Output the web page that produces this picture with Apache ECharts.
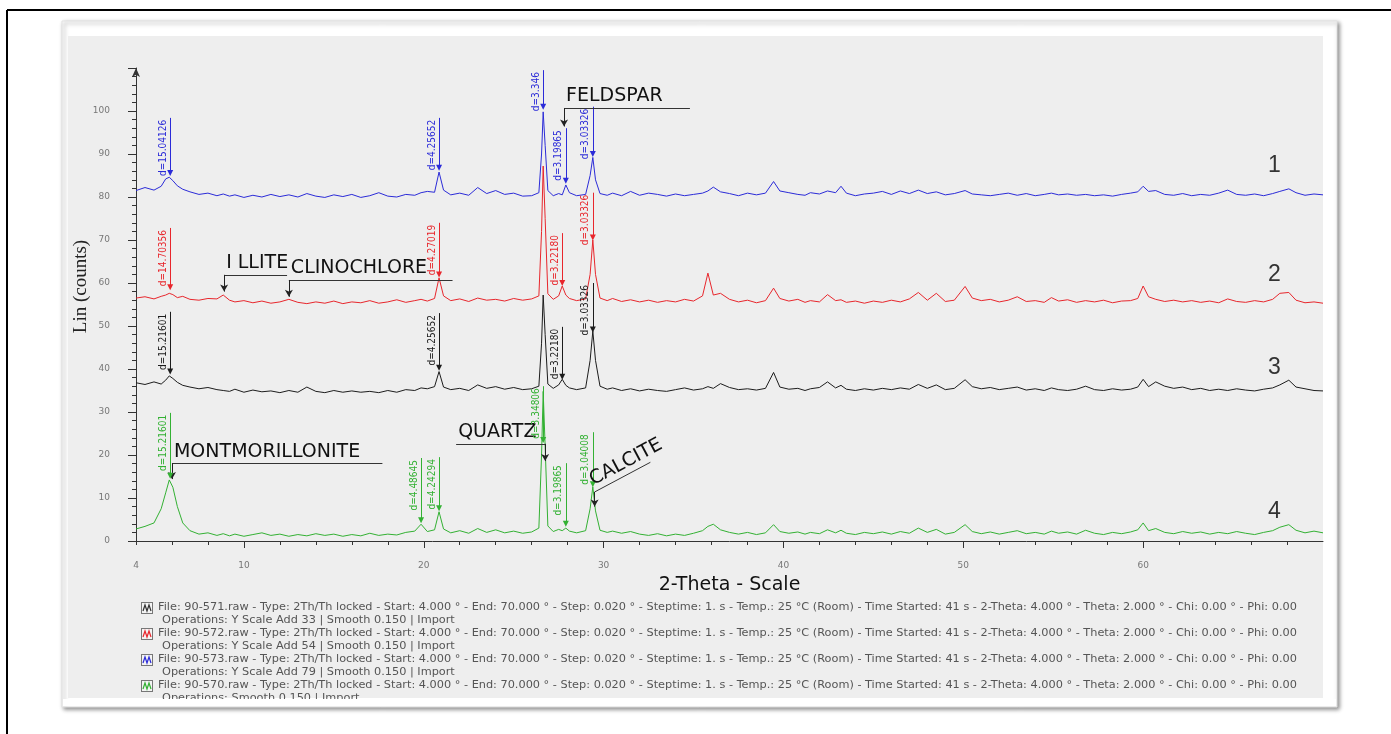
<!DOCTYPE html>
<html>
<head>
<meta charset="utf-8">
<script src="https://cdn.jsdelivr.net/npm/echarts@6/dist/echarts.min.js"></script>
<style>
  html, body { margin: 0; padding: 0; background: #ffffff; }
  #chart { width: 1391px; height: 734px; }
</style>
</head>
<body>
<div id="chart"></div>
<script>
// ---------------- DATA ----------------
// shared 2-Theta grid (degrees)
const twoTheta = [
  4, 4.5, 5, 5.4, 5.65, 5.85, 6.05, 6.3, 6.6, 7,
  7.5, 8, 8.5, 8.85, 9.2, 9.5, 10, 10.5, 11, 11.5,
  12, 12.5, 13, 13.5, 14, 14.5, 15, 15.5, 16, 16.5,
  17, 17.5, 18, 18.5, 19, 19.5, 19.85, 20.2, 20.6, 20.85,
  21.1, 21.5, 22, 22.5, 23, 23.5, 24, 24.5, 25, 25.5,
  26, 26.4, 26.55, 26.64, 26.75, 26.9, 27.2, 27.5, 27.7, 27.9,
  28.1, 28.5, 29, 29.25, 29.4, 29.55, 29.8, 30.2, 30.5, 31,
  31.5, 32, 32.5, 33, 33.5, 34, 34.5, 35, 35.5, 35.8,
  36.1, 36.5, 37, 37.5, 38, 38.5, 39, 39.45, 39.8, 40.3,
  40.8, 41.2, 41.5, 42, 42.45, 42.9, 43.2, 43.5, 44, 44.5,
  45, 45.5, 46, 46.5, 47, 47.5, 48, 48.5, 49, 49.5,
  50.1, 50.5, 51, 51.5, 52, 52.5, 53, 53.5, 54, 54.5,
  54.9, 55.3, 55.8, 56.3, 56.8, 57.3, 57.8, 58.3, 58.8, 59.3,
  59.7, 60, 60.3, 60.7, 61.2, 61.7, 62.2, 62.7, 63.2, 63.7,
  64.2, 64.7, 65.2, 65.7, 66.2, 66.7, 67.2, 67.6, 68.1, 68.5,
  69, 69.5, 70
];

// curve 1 (blue, file 90-573, Y scale add 79)
const curve1Blue = [
  81.5, 82.2, 81.6, 82.5, 84.2, 84.6, 83.8, 82.6, 81.8, 81.2,
  80.6, 80.9, 80.3, 80.7, 80.2, 80.5, 79.9, 80.4, 80.0, 80.6,
  80.1, 80.5, 80.0, 80.8, 80.2, 79.9, 80.5, 80.1, 80.6, 79.9,
  80.3, 81.0, 80.2, 80.0, 80.6, 80.4, 81.0, 81.3, 81.1, 85.8,
  81.6, 80.5, 80.9, 80.4, 82.2, 80.8, 81.5, 80.6, 80.9, 80.2,
  80.3, 81.0, 90.0, 99.8, 92.0, 81.5, 80.3, 80.8, 80.5, 82.8,
  81.0, 80.3, 80.6, 85.0, 89.2, 84.0, 80.8, 80.4, 80.9, 80.3,
  81.3, 80.4, 80.9, 80.6, 80.2, 80.7, 80.3, 80.6, 80.9, 81.4,
  82.3, 81.2, 80.8, 80.3, 80.9, 80.5, 80.9, 83.6, 81.4, 81.0,
  80.6, 80.4, 81.0, 80.7, 81.4, 81.0, 82.5, 80.9, 80.3, 80.7,
  80.9, 81.3, 80.6, 81.4, 80.8, 81.6, 80.8, 81.2, 80.5, 80.8,
  81.5, 80.7, 80.5, 80.3, 80.6, 80.9, 80.4, 80.8, 80.3, 80.6,
  80.9, 80.5, 80.7, 80.4, 80.6, 80.3, 80.5, 80.2, 80.6, 80.9,
  81.2, 82.5, 81.3, 81.5, 80.6, 80.4, 80.8, 80.3, 80.6, 80.4,
  80.9, 81.6, 80.6, 80.4, 80.7, 80.3, 80.8, 81.3, 81.9, 81.0,
  80.4, 80.7, 80.5
];

// curve 2 (red, file 90-572, Y scale add 54)
const curve2Red = [
  56.5, 56.8, 56.3, 56.9, 57.2, 57.6, 57.3, 56.6, 56.9, 56.2,
  56.0, 56.4, 56.3, 57.2, 56.0, 55.6, 55.9, 55.4, 55.8, 55.3,
  55.6, 56.2, 55.5, 55.2, 55.6, 55.3, 55.8, 55.2, 55.6, 55.4,
  55.9, 55.3, 55.6, 56.1, 55.5, 55.9, 56.2, 55.8, 56.4, 61.2,
  57.0, 55.9, 56.3, 55.7, 56.5, 56.0, 56.2, 55.8, 56.4, 56.0,
  56.3, 57.0, 72.0, 87.2, 75.0, 57.5, 56.2, 57.0, 59.3, 57.2,
  56.4, 55.9, 56.3, 62.0, 70.0, 62.0, 56.5, 55.9, 56.4, 55.7,
  56.1, 55.6, 56.0, 55.5, 55.9, 55.6, 56.2, 55.8, 57.0, 62.3,
  57.2, 57.6, 56.2, 55.6, 56.0, 55.4, 55.9, 58.8, 56.4, 55.8,
  56.2, 55.5, 55.9, 55.6, 57.3, 55.9, 56.1, 55.5, 55.8, 55.3,
  55.8, 55.5, 56.0, 55.6, 56.3, 57.8, 56.0, 57.6, 55.7, 56.0,
  59.2, 56.5, 55.9, 56.2, 55.6, 56.0, 56.8, 55.7, 55.9, 55.5,
  56.6, 55.8, 56.1, 55.5, 55.9, 55.6, 56.0, 55.4, 55.8, 55.9,
  56.4, 59.3, 56.8, 56.2, 55.7, 56.0, 55.6, 55.9, 55.5, 55.8,
  55.4, 56.3, 55.7, 55.5, 55.9, 55.6, 56.2, 57.6, 57.8, 56.0,
  55.4, 55.6, 55.3
];

// curve 3 (black, file 90-571, Y scale add 33)
const curve3Black = [
  36.8, 36.4, 37.0, 36.5, 37.4, 38.4, 37.8, 36.9, 36.2, 35.8,
  35.4, 35.7, 35.2, 35.0, 34.8, 35.3, 34.6, 35.1, 34.7, 34.9,
  34.5, 35.0, 34.6, 35.8, 34.8, 34.5, 35.0, 34.6, 34.9, 34.6,
  34.8, 34.5, 35.0, 34.6, 35.2, 35.0, 35.6, 35.4, 35.9, 39.4,
  35.8, 35.2, 35.5, 35.0, 36.3, 35.5, 35.9, 35.3, 35.7, 35.2,
  35.4, 36.0, 46.0, 57.2, 48.0, 36.5, 35.5, 36.3, 37.6, 36.2,
  35.6, 35.2, 35.6, 42.0, 48.8, 42.0, 36.0, 35.3, 35.6, 35.0,
  35.4, 34.9, 35.3, 35.0, 34.8, 35.2, 35.6, 35.1, 35.4, 35.9,
  35.5, 36.6, 35.7, 35.2, 35.4, 35.1, 35.5, 39.2, 35.8, 35.3,
  35.5, 35.0, 35.4, 35.7, 37.0, 35.6, 36.2, 35.3, 35.0, 35.4,
  35.1, 35.5, 35.2, 35.6, 35.3, 36.4, 35.5, 36.3, 35.2, 35.5,
  37.5, 35.9, 35.4, 35.7, 35.2, 35.5, 35.8, 35.1, 35.4, 35.0,
  35.6, 35.2, 35.0, 35.3, 36.0, 35.2, 35.0, 35.4, 35.1, 35.3,
  35.8, 37.6, 35.9, 37.0, 36.0, 35.5, 35.8, 35.2, 35.5, 35.0,
  35.3, 35.0, 35.4, 35.1, 34.9, 35.3, 35.6, 36.3, 37.4, 35.8,
  35.4, 35.0, 34.9
];

// curve 4 (green, file 90-570, no offset)
const curve4Green = [
  2.8, 3.4, 4.2, 7.5, 11.2, 14.2, 12.5, 8.0, 4.2, 2.4,
  1.6, 1.9, 1.3, 1.7, 1.2, 1.6, 1.1, 1.5, 1.9, 1.3,
  1.6, 1.1, 1.5, 1.2, 1.7, 1.3, 1.6, 1.1, 1.5, 1.2,
  1.8, 1.3, 1.6, 1.4, 2.0, 2.3, 3.9, 2.2, 2.6, 6.8,
  2.8, 1.9, 2.4, 1.8, 2.9, 2.0, 2.6, 1.9, 2.3, 1.8,
  2.1, 3.0, 20.0, 34.8, 22.0, 3.5, 2.2, 2.7, 2.4, 3.0,
  2.3, 1.9, 2.4, 7.5, 12.6, 7.0, 2.5, 2.0, 2.3, 1.8,
  2.2, 1.6, 1.3, 1.7, 1.2, 1.6, 1.3, 1.8, 2.4, 3.4,
  3.9, 2.6, 2.0, 1.6, 2.0, 1.5, 1.9, 3.8, 2.2, 1.8,
  2.1, 1.6, 2.0, 1.7, 2.6, 1.9, 2.5, 1.8, 1.5, 2.0,
  1.7, 2.1, 1.6, 2.2, 1.8, 3.0, 2.0, 2.7, 1.6, 2.0,
  3.8, 2.2, 1.7, 2.1, 1.6, 2.0, 2.4, 1.7, 2.0, 1.6,
  2.3, 1.8, 2.1, 1.6, 2.5, 1.8, 1.5, 2.0, 1.7, 2.1,
  2.6, 4.2, 2.4, 2.9, 2.0, 1.7, 2.2, 1.8, 2.1, 1.6,
  2.0, 1.7, 2.2, 1.8, 1.5, 2.0, 2.4, 3.2, 3.8, 2.5,
  1.9, 2.3, 1.9
];

// axis ticks
const xTickLabels = [4, 10, 20, 30, 40, 50, 60];
const xMajorTicks = [10, 20, 30, 40, 50, 60];
const xMinorTicks = [4, 6, 8, 12, 14, 16, 18, 22, 24, 26, 28, 32, 34, 36, 38, 42, 44, 46, 48, 52, 54, 56, 58, 62, 64, 66, 68];
const yTickLabels = [0, 10, 20, 30, 40, 50, 60, 70, 80, 90, 100];

// d-spacing peak markers: [curve, 2θ, line top, arrow tip, text]
const dMarks = [
  ['blue', 5.9, 98.4, 85.6, 'd=15.04126'],
  ['blue', 20.85, 98.4, 86.8, 'd=4.25652'],
  ['blue', 26.64, 109.5, 101.0, 'd=3.346'],
  ['blue', 27.9, 96.0, 83.8, 'd=3.19865'],
  ['blue', 29.4, 101.0, 90.0, 'd=3.03326'],
  ['red', 5.9, 72.8, 59.0, 'd=14.70356'],
  ['red', 20.85, 74.0, 62.0, 'd=4.27019'],
  ['red', 27.7, 71.6, 60.0, 'd=3.22180'],
  ['red', 29.4, 81.0, 70.6, 'd=3.03326'],
  ['black', 5.9, 53.3, 39.4, 'd=15.21601'],
  ['black', 20.85, 53.0, 40.3, 'd=4.25652'],
  ['black', 27.7, 49.8, 38.2, 'd=3.22180'],
  ['black', 29.4, 60.0, 49.2, 'd=3.03326'],
  ['green', 5.9, 29.8, 15.2, 'd=15.21601'],
  ['green', 19.85, 19.3, 4.8, 'd=4.48645'],
  ['green', 20.85, 19.5, 7.6, 'd=4.24294'],
  ['green', 26.64, 36.0, 23.5, 'd=3.34806'],
  ['green', 27.9, 18.1, 4.0, 'd=3.19865'],
  ['green', 29.4, 25.3, 13.2, 'd=3.04008']
];

// mineral labels: [text, x1, y1, x2, y2, leader x, leader bottom]
const minerals = [
  ['FELDSPAR', 27.8, 100.7, 34.8, 100.7, 27.8, 96.4],
  ['I LLITE', 8.9, 61.9, 12.4, 61.9, 8.9, 58.0],
  ['CLINOCHLORE', 12.5, 60.7, 21.6, 60.7, 12.5, 56.8],
  ['MONTMORILLONITE', 6.0, 18.1, 17.7, 18.1, 6.0, 14.4],
  ['QUARTZ', 21.8, 22.6, 26.75, 22.6, 26.75, 18.6],
  ['CALCITE', 29.5, 11.4, 32.6, 18.3, 29.5, 8.0]
];

// curve numbers at the right: [curve, 2θ, y, text]
const curveNumbers = [
  ['blue', 67.3, 87.3, '1'],
  ['red', 67.3, 61.9, '2'],
  ['black', 67.3, 40.2, '3'],
  ['green', 67.3, 6.8, '4']
];

// legend (scan file info)
const fileNames = ['90-571.raw', '90-572.raw', '90-573.raw', '90-570.raw'];
const operations = [
  'Y Scale Add 33 | Smooth 0.150 | Import',
  'Y Scale Add 54 | Smooth 0.150 | Import',
  'Y Scale Add 79 | Smooth 0.150 | Import',
  'Smooth 0.150 | Import'
];

// ---------------- CHART ----------------
const COLORS = { blue: '#2b2bd8', red: '#e8262c', black: '#1c1c1c', green: '#33b133' };
const NARROW = "'Liberation Sans Narrow', 'DejaVu Sans Condensed', 'Liberation Sans', sans-serif";
const SANS = "'Liberation Sans', Arial, sans-serif";
const WIDE = "'DejaVu Sans', sans-serif";

function pairs(vals) { return twoTheta.map((x, i) => [x, vals[i]]); }

function dMarkData(key) {
  return dMarks.filter(m => m[0] === key).map(m => [
    { coord: [m[1], m[3]], symbol: 'triangle' },
    { coord: [m[1], m[2]], symbol: 'none',
      label: { show: true, formatter: m[4], position: 'insideEndTop', distance: 2,
               color: COLORS[key], fontSize: 10, fontFamily: NARROW } }
  ]);
}

function mineralData() {
  const out = [];
  minerals.forEach(m => {
    out.push([
      { coord: [m[1], m[2]], symbol: 'none', lineStyle: { color: '#333', width: 1 },
        label: { show: true, formatter: m[0], position: 'insideStartTop', distance: 2,
                 color: '#111', fontSize: 19, fontFamily: WIDE } },
      { coord: [m[3], m[4]], symbol: 'none' }
    ]);
    out.push([
      { coord: [m[5], m[2]], symbol: 'none', lineStyle: { color: '#222', width: 1 } },
      { coord: [m[5], m[6]], symbol: 'arrow', symbolSize: [6, 7] }
    ]);
  });
  return out;
}

function numberData(key) {
  return curveNumbers.filter(n => n[0] === key).map(n => ({
    coord: [n[1], n[2]], value: n[3]
  }));
}

function makeSeries(name, key, vals, withMinerals) {
  return {
    name: name,
    type: 'line',
    data: pairs(vals),
    showSymbol: false,
    symbol: 'none',
    smooth: false,
    lineStyle: { color: COLORS[key], width: 1 },
    itemStyle: { color: COLORS[key] },
    animation: false,
    silent: true,
    markLine: {
      silent: true,
      animation: false,
      symbol: ['triangle', 'none'],
      symbolSize: [6, 6],
      lineStyle: { color: COLORS[key], width: 1, type: 'solid' },
      label: { show: false },
      emphasis: { disabled: true },
      data: dMarkData(key).concat(withMinerals ? mineralData() : [])
    },
    markPoint: {
      silent: true,
      animation: false,
      symbol: 'circle',
      symbolSize: 0,
      label: { show: true, position: 'inside', formatter: p => p.data.value,
               color: '#333', fontSize: 23, fontFamily: SANS },
      data: numberData(key)
    }
  };
}

function legendIcon(color) {
  const svg = '<svg xmlns="http://www.w3.org/2000/svg" width="12" height="26" viewBox="0 0 12 26">' +
    '<rect x="0.5" y="1.5" width="11" height="11" fill="#f4f4f4" stroke="#777" stroke-width="1"/>' +
    '<polyline points="2,10 4,4 6,10 8,4 10,10" fill="none" stroke="' + color + '" stroke-width="1.2"/>' +
    '</svg>';
  return 'image://data:image/svg+xml;charset=utf-8,' + encodeURIComponent(svg);
}

const chart = echarts.init(document.getElementById('chart'), null, { renderer: 'canvas' });

const option = {
  backgroundColor: '#ffffff',
  animation: false,
  graphic: [
    // outer frame lines
    { type: 'line', z: 50, shape: { x1: 7, y1: 10, x2: 1391, y2: 10 }, style: { stroke: '#000', lineWidth: 2 } },
    { type: 'line', z: 50, shape: { x1: 7, y1: 10, x2: 7, y2: 734 }, style: { stroke: '#000', lineWidth: 2 } },
    // white card with shadow
    { type: 'rect', z: -20, shape: { x: 62, y: 21, width: 1275, height: 686 },
      style: { fill: '#ffffff', stroke: '#e2e2e2', lineWidth: 1, shadowBlur: 4, shadowOffsetX: 2, shadowOffsetY: 2, shadowColor: 'rgba(0,0,0,0.45)' } },
    // grey plot panel
    { type: 'rect', z: -19, shape: { x: 68, y: 36, width: 1255, height: 662 }, style: { fill: '#eeeeee' } },
    // card bottom edge covering overflowing legend text
    { type: 'rect', z: 60, shape: { x: 63, y: 699, width: 1273, height: 7 }, style: { fill: '#ffffff' } }
  ],
  grid: { left: 136, right: 68, top: 68, bottom: 193, containLabel: false },
  xAxis: [
    {
      type: 'value', min: 4, max: 70, position: 'bottom',
      name: '2-Theta - Scale', nameLocation: 'middle', nameGap: 35,
      nameTextStyle: { color: '#111', fontSize: 19, fontFamily: WIDE },
      axisLine: { show: true, lineStyle: { color: '#333', width: 1 } },
      axisTick: { show: true, customValues: xMajorTicks, length: 7, lineStyle: { color: '#333' } },
      axisLabel: { show: true, customValues: xTickLabels, margin: 20, color: '#777', fontSize: 9, fontFamily: WIDE },
      splitLine: { show: false }
    },
    {
      type: 'value', min: 4, max: 70, position: 'bottom', offset: 0,
      axisLine: { show: false },
      axisTick: { show: true, customValues: xMinorTicks, length: 4, lineStyle: { color: '#333' } },
      axisLabel: { show: false },
      splitLine: { show: false }
    }
  ],
  yAxis: {
    type: 'value', min: 0, max: 110, interval: 10,
    name: 'Lin (counts)', nameLocation: 'middle', nameGap: 45, nameMoveOverlap: false,
    nameTextStyle: { color: '#222', fontSize: 19, fontFamily: "'Liberation Serif', 'Times New Roman', serif", padding: [0, 0, 0, 36] },
    axisLine: { show: true, symbol: ['none', 'arrow'], symbolSize: [6, 9], lineStyle: { color: '#333', width: 1 } },
    axisTick: { show: true, length: 8, lineStyle: { color: '#333' } },
    minorTick: { show: true, splitNumber: 5, length: 4, lineStyle: { color: '#333' } },
    axisLabel: { show: true, customValues: yTickLabels, margin: 26, color: '#777', fontSize: 9, fontFamily: WIDE },
    splitLine: { show: false },
    minorSplitLine: { show: false }
  },
  legend: {
    show: true,
    orient: 'vertical',
    left: 136,
    top: 596,
    itemGap: 0,
    itemWidth: 12,
    itemHeight: 26,
    selectedMode: false,
    data: [
      { name: fileNames[0], icon: legendIcon('#333333') },
      { name: fileNames[1], icon: legendIcon('#e8262c') },
      { name: fileNames[2], icon: legendIcon('#2b2bd8') },
      { name: fileNames[3], icon: legendIcon('#33b133') }
    ],
    formatter: function (name) {
      const i = fileNames.indexOf(name);
      return '{f|File: ' + name + ' - Type: 2Th/Th locked - Start: 4.000 ° - End: 70.000 ° - Step: 0.020 ° - Steptime: 1. s - Temp.: 25 °C (Room) - Time Started: 41 s - 2-Theta: 4.000 ° - Theta: 2.000 ° - Chi: 0.00 ° - Phi: 0.00}\n' +
             '{o|Operations: ' + operations[i] + '}';
    },
    textStyle: {
      color: '#555', fontSize: 11.3, fontFamily: WIDE, lineHeight: 13,
      rich: {
        f: { color: '#555', fontSize: 11.3, fontFamily: WIDE, lineHeight: 13 },
        o: { color: '#555', fontSize: 11.3, fontFamily: WIDE, lineHeight: 13, padding: [0, 0, 0, 4] }
      }
    }
  },
  series: [
    makeSeries(fileNames[2], 'blue', curve1Blue, false),
    makeSeries(fileNames[1], 'red', curve2Red, false),
    makeSeries(fileNames[0], 'black', curve3Black, true),
    makeSeries(fileNames[3], 'green', curve4Green, false)
  ]
};

chart.setOption(option);
</script>
</body>
</html>
